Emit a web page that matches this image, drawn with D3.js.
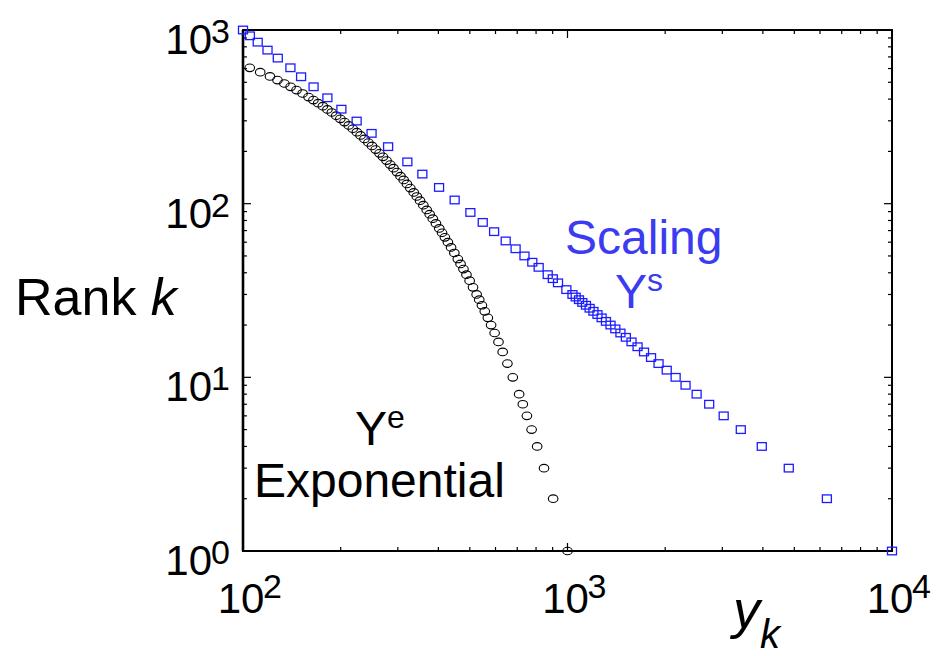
<!DOCTYPE html>
<html>
<head>
<meta charset="utf-8">
<script src="https://cdn.jsdelivr.net/npm/d3@7"></script>
<style>
  body { margin: 0; background: #fff; }
  text { font-family: "Liberation Sans", Arial, sans-serif; }
</style>
</head>
<body>
<div id="wrapper"></div>
<script>
// Scaling series Y^s : rank k and value y_k (blue squares)
const scaleRanks = [1, 2, 3, 4, 5, 6, 7, 8, 9, 10, 11, 12, 13, 14, 15, 16, 17, 18, 19, 20,
  21, 22, 23, 24, 25, 26, 27, 28, 29, 30, 32, 35, 37, 39, 43, 46, 50, 55, 61, 69, 78, 89,
  105, 124, 148, 174, 213, 254, 299, 350, 407, 471, 538, 606, 689, 766, 851, 926, 1000];
const scaleValues = [10000, 6300, 4807, 3969, 3420, 3029, 2733, 2500, 2311, 2154, 2022, 1908,
  1809, 1721, 1644, 1575, 1513, 1456, 1404, 1357, 1314, 1274, 1237, 1202, 1170, 1140, 1111,
  1085, 1060, 1036, 992, 935, 901, 869, 815, 779, 737, 692, 645, 594, 548, 502, 449, 402,
  357, 321, 280, 249, 224, 201, 182, 165, 151, 140, 128, 119, 111, 105, 100];

// Exponential series Y^e : rank k and value y_k (black circles)
const expRanks = [1, 2, 3, 4, 5, 6, 7, 8, 10, 12, 14, 16, 18, 20, 22, 24, 26, 28, 30, 33, 36,
  39, 42, 45, 48, 52, 56, 60, 64, 68, 72, 77, 82, 87, 92, 98, 104, 110, 116, 123, 130, 137,
  144, 152, 160, 168, 177, 186, 195, 205, 215, 225, 236, 247, 258, 270, 282, 295, 308, 321,
  335, 349, 364, 379, 395, 411, 431, 451, 471, 492, 515, 540, 572, 606];
const expValues = [1000, 903.2, 846.5, 806.3, 775.2, 749.7, 728.2, 709.5, 678.3, 652.9, 631.3,
  612.7, 596.2, 581.5, 568.2, 556.0, 544.8, 534.5, 524.8, 511.5, 499.4, 488.2, 477.9, 468.2,
  459.2, 448.0, 437.7, 428.0, 419.0, 410.5, 402.5, 393.2, 384.4, 376.1, 368.3, 359.5, 351.2,
  343.3, 335.9, 327.7, 320.0, 312.7, 305.7, 298.2, 291.0, 284.2, 276.9, 269.9, 263.4, 256.4,
  249.7, 243.4, 236.7, 230.3, 224.3, 217.9, 211.8, 205.5, 199.5, 193.7, 187.8, 182.0, 176.2,
  170.5, 164.8, 159.2, 152.6, 146.2, 140.2, 134.1, 127.7, 121.1, 113.0, 104.9];

// tick labels (decades)
const xDecades = [2, 3, 4];
const yDecades = [0, 1, 2, 3];

function drawChart() {

  // 1. dimensions
  const dimensions = {
    width: 937,
    height: 656,
    margin: { top: 30, right: 45, bottom: 105, left: 243 },
  };
  dimensions.boundedWidth = dimensions.width - dimensions.margin.left - dimensions.margin.right;
  dimensions.boundedHeight = dimensions.height - dimensions.margin.top - dimensions.margin.bottom;

  const blue = "#3b3bf2";

  // 2. canvas
  const svg = d3.select("#wrapper")
    .append("svg")
      .attr("width", dimensions.width)
      .attr("height", dimensions.height);

  const bounds = svg.append("g")
      .attr("transform", `translate(${dimensions.margin.left}, ${dimensions.margin.top})`);

  // 3. scales
  const xScale = d3.scaleLog()
    .domain([100, 10000])
    .range([0, dimensions.boundedWidth]);

  const yScale = d3.scaleLog()
    .domain([1, 1000])
    .range([dimensions.boundedHeight, 0]);

  // 4. frame + inward ticks on all sides
  const W = dimensions.boundedWidth, H = dimensions.boundedHeight;
  const major = 8, minor = 4;

  const xTicks = xScale.ticks();
  const yTicks = yScale.ticks();
  const isMajor = v => Math.abs(Math.log10(v) - Math.round(Math.log10(v))) < 1e-9;

  const ticks = bounds.append("g").attr("stroke", "#000").attr("stroke-width", 1.2);
  xTicks.forEach(v => {
    const x = xScale(v), len = isMajor(v) ? major : minor;
    ticks.append("line").attr("x1", x).attr("x2", x).attr("y1", H).attr("y2", H - len);
    ticks.append("line").attr("x1", x).attr("x2", x).attr("y1", 0).attr("y2", len);
  });
  yTicks.forEach(v => {
    const y = yScale(v), len = isMajor(v) ? major : minor;
    ticks.append("line").attr("x1", 0).attr("x2", len).attr("y1", y).attr("y2", y);
    ticks.append("line").attr("x1", W).attr("x2", W - len).attr("y1", y).attr("y2", y);
  });

  bounds.append("rect")
      .attr("width", W)
      .attr("height", H)
      .attr("fill", "none")
      .attr("stroke", "#000")
      .attr("stroke-width", 2);
  bounds.append("line")
      .attr("x1", 0).attr("x2", 0).attr("y1", 0).attr("y2", H)
      .attr("stroke", "#000").attr("stroke-width", 2.6);

  // 5. data
  const expData = expRanks.map((k, i) => ({ k, y: expValues[i] }));
  const scaleData = scaleRanks.map((k, i) => ({ k, y: scaleValues[i] }));

  bounds.append("g").selectAll("ellipse")
    .data(expData)
    .join("ellipse")
      .attr("cx", d => xScale(d.y))
      .attr("cy", d => yScale(d.k))
      .attr("rx", 4.8)
      .attr("ry", 3.8)
      .attr("fill", "none")
      .attr("stroke", "#000")
      .attr("stroke-width", 1.1);

  bounds.append("g").selectAll("rect")
    .data(scaleData)
    .join("rect")
      .attr("x", d => xScale(d.y) - 4.5)
      .attr("y", d => yScale(d.k) - 3.8)
      .attr("width", 9)
      .attr("height", 7.6)
      .attr("fill", "none")
      .attr("stroke", "#1c1cff")
      .attr("stroke-width", 1.3);

  // 6. tick labels (10 with superscript)
  const xLabels = bounds.append("g");
  xDecades.forEach(p => {
    const x = xScale(Math.pow(10, p));
    xLabels.append("text")
        .attr("x", x - 2).attr("y", H + 62)
        .attr("text-anchor", "middle")
        .attr("font-size", 42)
        .text("10");
    xLabels.append("text")
        .attr("x", x + 20).attr("y", H + 47)
        .attr("font-size", 34)
        .text(p);
  });

  const yLabels = bounds.append("g");
  yDecades.forEach(p => {
    const y = yScale(Math.pow(10, p));
    yLabels.append("text")
        .attr("x", -31).attr("y", y + 24)
        .attr("text-anchor", "end")
        .attr("font-size", 42)
        .text("10");
    yLabels.append("text")
        .attr("x", -32).attr("y", y + 13)
        .attr("font-size", 34)
        .text(p);
  });

  // 7. axis titles and series labels
  const rank = svg.append("text")
      .attr("x", 15).attr("y", 315)
      .attr("font-size", 52);
  rank.append("tspan").text("Rank ");
  rank.append("tspan").attr("font-style", "italic").text("k");

  const yk = svg.append("text")
      .attr("x", 733).attr("y", 628)
      .attr("font-size", 54)
      .attr("font-style", "italic");
  yk.append("tspan").text("y");
  yk.append("tspan").attr("font-size", 40).attr("dy", 20).text("k");

  svg.append("text")
      .attr("x", 565).attr("y", 254)
      .attr("font-size", 48)
      .attr("fill", blue)
      .text("Scaling");

  const ys = svg.append("text")
      .attr("x", 615).attr("y", 308)
      .attr("font-size", 48)
      .attr("fill", blue);
  ys.append("tspan").text("Y");
  ys.append("tspan").attr("font-size", 32).attr("dy", -17).text("s");

  const ye = svg.append("text")
      .attr("x", 355).attr("y", 445)
      .attr("font-size", 48)
      .attr("fill", "#000");
  ye.append("tspan").text("Y");
  ye.append("tspan").attr("font-size", 32).attr("dy", -17).text("e");

  svg.append("text")
      .attr("x", 254).attr("y", 497)
      .attr("font-size", 48)
      .text("Exponential");
}
drawChart();
</script>
</body>
</html>
